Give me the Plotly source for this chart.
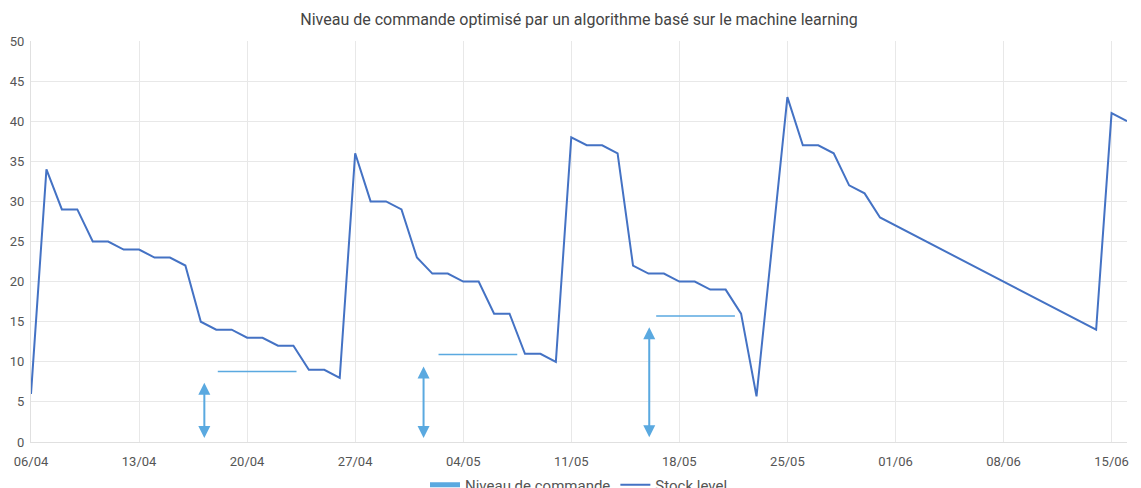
import plotly.graph_objects as go

# Stock level series
stock_dates = ["2020-04-06", "2020-04-07", "2020-04-08", "2020-04-09", "2020-04-10", "2020-04-11",
               "2020-04-12", "2020-04-13", "2020-04-14", "2020-04-15", "2020-04-16", "2020-04-17",
               "2020-04-18", "2020-04-19", "2020-04-20", "2020-04-21", "2020-04-22", "2020-04-23",
               "2020-04-24", "2020-04-25", "2020-04-26", "2020-04-27", "2020-04-28", "2020-04-29",
               "2020-04-30", "2020-05-01", "2020-05-02", "2020-05-03", "2020-05-04", "2020-05-05",
               "2020-05-06", "2020-05-07", "2020-05-08", "2020-05-09", "2020-05-10", "2020-05-11",
               "2020-05-12", "2020-05-13", "2020-05-14", "2020-05-15", "2020-05-16", "2020-05-17",
               "2020-05-18", "2020-05-19", "2020-05-20", "2020-05-21", "2020-05-22", "2020-05-23",
               "2020-05-25", "2020-05-26", "2020-05-27", "2020-05-28", "2020-05-29", "2020-05-30",
               "2020-05-31", "2020-06-14", "2020-06-15", "2020-06-16"]
stock_values = [6, 34, 29, 29, 25, 25,
                24, 24, 23, 23, 22, 15,
                14, 14, 13, 13, 12, 12,
                9, 9, 8, 36, 30, 30,
                29, 23, 21, 21, 20, 20,
                16, 16, 11, 11, 10, 38,
                37, 37, 36, 22, 21, 21,
                20, 20, 19, 19, 16, 5.7,
                43, 37, 37, 36, 32, 31,
                28, 14, 41, 40]

# Order level segments (Niveau de commande)
order_start = ["2020-04-18 02:24", "2020-05-02 09:36", "2020-05-16 12:00"]
order_end = ["2020-04-23 04:48", "2020-05-07 12:00", "2020-05-21 14:24"]
order_level = [8.8, 10.9, 15.7]

# Double arrows (lead time markers)
arrow_dates = ["2020-04-17 05:30", "2020-05-01 10:20", "2020-05-16 01:12"]
arrow_top = [7.4, 9.4, 14.3]
arrow_bottom = [0.3, 0.3, 0.4]

title_text = "Niveau de commande optimisé par un algorithme basé sur le machine learning"
order_color = "#5aa9e0"
stock_color = "#4472c4"

seg_x, seg_y = [], []
for s, e, v in zip(order_start, order_end, order_level):
    seg_x += [s, e, None]
    seg_y += [v, v, None]

fig = go.Figure()
fig.add_trace(go.Scatter(x=seg_x, y=seg_y, mode="lines", name="Niveau de commande",
                         line=dict(color=order_color, width=1.5), showlegend=False,
                         legendgroup="order", hoverinfo="skip"))
fig.add_trace(go.Scatter(x=[None], y=[None], mode="lines", name="Niveau de commande",
                         line=dict(color=order_color, width=5), legendgroup="order"))
fig.add_trace(go.Scatter(x=stock_dates, y=stock_values, mode="lines", name="Stock level",
                         line=dict(color=stock_color, width=2)))

for d, top, bot in zip(arrow_dates, arrow_top, arrow_bottom):
    fig.add_annotation(x=d, y=top, ax=d, ay=bot, xref="x", yref="y", axref="x", ayref="y",
                       text="", showarrow=True, arrowside="end+start",
                       arrowhead=2, startarrowhead=2, arrowsize=1.2, startarrowsize=1.2,
                       arrowwidth=2, arrowcolor=order_color, standoff=0, startstandoff=0)

fig.update_layout(
    width=1141, height=488,
    paper_bgcolor="white", plot_bgcolor="white",
    margin=dict(l=31, r=14, t=41, b=46, autoexpand=False),
    font=dict(family="Roboto, sans-serif", color="#555555", size=13),
    title=dict(text=title_text, x=0.5, xref="paper", xanchor="center", y=1 - 19 / 488, yanchor="middle",
               font=dict(size=16, color="#444444")),
    showlegend=True,
    legend=dict(orientation="h", x=0.5, xanchor="center", y=-0.066, yanchor="top",
                font=dict(size=15, color="#555555"), bgcolor="rgba(0,0,0,0)"),
    xaxis=dict(type="date", range=["2020-04-06", "2020-06-16"], tickformat="%d/%m",
               tick0="2020-04-06", dtick=7 * 24 * 3600 * 1000,
               showgrid=True, gridcolor="#e8e8e8", gridwidth=1,
               showline=True, linecolor="#e0e0e0", linewidth=1, ticks="",
               ticklabelstandoff=7,
               zeroline=False, tickfont=dict(size=13, color="#555555")),
    yaxis=dict(range=[0, 50], dtick=5, tick0=0, showgrid=True, gridcolor="#e8e8e8", gridwidth=1,
               showline=True, linecolor="#e0e0e0", linewidth=1, ticks="", zeroline=False,
               ticklabelstandoff=3,
               tickfont=dict(size=13, color="#555555")),
)

fig.write_html("out.html", config={"displayModeBar": False},
               post_script="document.body.style.margin='0';")
